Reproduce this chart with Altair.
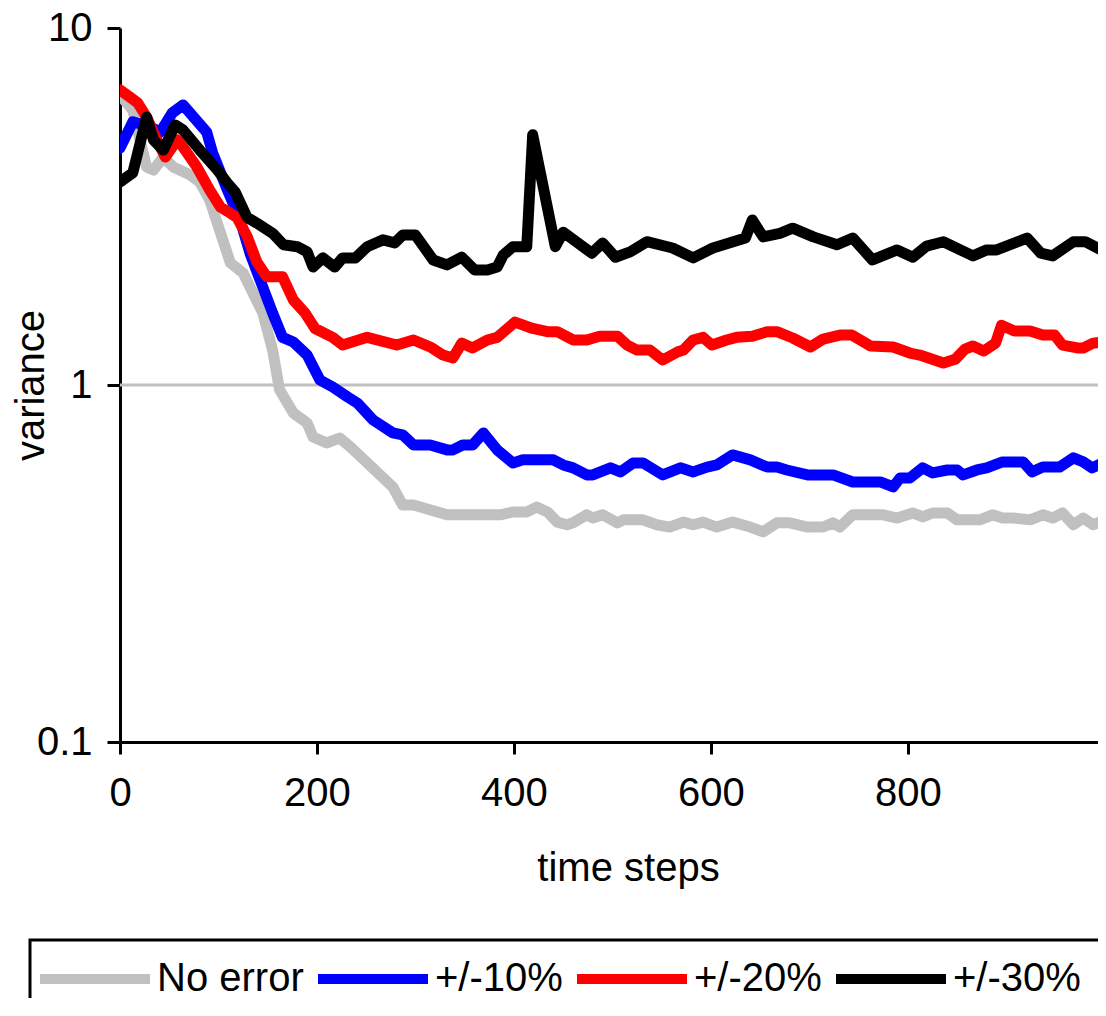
import altair as alt
import pandas as pd

# ---------------- data ----------------
series_names = ["No error", "+/-10%", "+/-20%", "+/-30%"]
series_colors = ["#c0c0c0", "#0000ff", "#ff0000", "#000000"]

t_none = [0, 13, 27, 34, 44, 54, 71, 81, 91, 102, 112, 125, 135, 145, 155, 162, 176, 190, 196, 210,
          223, 234, 277, 287, 298, 332, 386, 399, 413, 423, 434, 444, 454, 460, 474, 480, 490, 505, 511, 531,
          545, 558, 572, 582, 592, 606, 622, 640, 653, 667, 680, 698, 714, 724, 731, 744, 775, 789, 805, 815,
          825, 840, 850, 873, 886, 896, 907, 924, 937, 947, 957, 968, 978, 988, 1000]
v_none = [6.49, 5.89, 4.08, 4.00, 4.35, 4.08, 3.88, 3.70, 3.30, 2.67, 2.20, 2.06, 1.81, 1.59, 1.25, 0.97, 0.835, 0.783, 0.715, 0.688,
          0.71, 0.67, 0.518, 0.461, 0.461, 0.433, 0.433, 0.441, 0.441, 0.455, 0.441, 0.413, 0.406, 0.411, 0.433, 0.424, 0.433, 0.411, 0.419, 0.419,
          0.406, 0.40, 0.413, 0.406, 0.413, 0.40, 0.413, 0.40, 0.388, 0.411, 0.411, 0.40, 0.40, 0.411, 0.40, 0.433, 0.433, 0.424, 0.438, 0.427,
          0.438, 0.438, 0.419, 0.419, 0.433, 0.424, 0.424, 0.419, 0.433, 0.424, 0.438, 0.406, 0.424, 0.406, 0.419]

t_10 = [0, 13, 31, 41, 53, 64, 88, 94, 109, 122, 132, 145, 155, 165, 176, 190, 203, 216, 231, 241,
        257, 277, 287, 298, 315, 332, 338, 348, 358, 369, 383, 399, 409, 440, 450, 460, 474, 480, 498, 508,
        521, 531, 551, 569, 582, 596, 606, 622, 640, 657, 667, 677, 698, 724, 744, 772, 785, 792, 802, 815,
        825, 840, 850, 856, 870, 880, 896, 917, 926, 937, 954, 968, 978, 987, 1000]
v_10 = [4.61, 5.46, 5.28, 5.11, 5.78, 6.09, 5.11, 4.47, 3.52, 2.90, 2.34, 1.88, 1.59, 1.36, 1.32, 1.213, 1.033, 0.987, 0.926, 0.89,
        0.798, 0.734, 0.725, 0.679, 0.679, 0.658, 0.658, 0.679, 0.679, 0.734, 0.658, 0.605, 0.617, 0.617, 0.597, 0.586, 0.56, 0.56, 0.586, 0.571,
        0.605, 0.605, 0.56, 0.586, 0.571, 0.589, 0.597, 0.637, 0.617, 0.589, 0.589, 0.578, 0.56, 0.56, 0.535, 0.535, 0.518, 0.549, 0.549, 0.586,
        0.567, 0.578, 0.578, 0.56, 0.578, 0.586, 0.609, 0.609, 0.571, 0.589, 0.589, 0.625, 0.609, 0.586, 0.609]

t_20 = [0, 10, 18, 27, 36, 46, 58, 64, 78, 91, 102, 112, 119, 129, 139, 149, 165, 176, 188, 198,
        216, 226, 251, 281, 298, 315, 328, 338, 347, 358, 373, 383, 401, 419, 434, 444, 460, 474, 487, 505,
        515, 525, 538, 551, 566, 572, 582, 592, 601, 616, 626, 642, 657, 667, 683, 701, 714, 731, 743, 762,
        785, 802, 812, 836, 848, 858, 866, 877, 889, 895, 908, 924, 937, 949, 957, 972, 978, 988, 1000]
v_20 = [6.71, 6.41, 6.17, 5.63, 4.95, 4.35, 4.86, 4.64, 4.08, 3.52, 3.15, 3.03, 2.94, 2.61, 2.21, 2.01, 2.01, 1.73, 1.59, 1.44,
        1.36, 1.294, 1.36, 1.294, 1.337, 1.278, 1.213, 1.19, 1.31, 1.27, 1.337, 1.36, 1.50, 1.44, 1.41, 1.41, 1.337, 1.337, 1.37, 1.37,
        1.294, 1.253, 1.253, 1.175, 1.237, 1.253, 1.337, 1.36, 1.294, 1.337, 1.36, 1.37, 1.41, 1.41, 1.354, 1.278, 1.345, 1.38, 1.38, 1.286,
        1.278, 1.229, 1.213, 1.152, 1.18, 1.261, 1.286, 1.245, 1.31, 1.47, 1.417, 1.417, 1.38, 1.38, 1.294, 1.27, 1.27, 1.31, 1.32]

t_30 = [0, 13, 27, 34, 44, 56, 64, 81, 99, 109, 117, 129, 139, 155, 166, 180, 190, 196, 206, 218,
        226, 239, 251, 267, 279, 287, 300, 318, 332, 347, 360, 373, 383, 389, 399, 413, 419, 442, 450, 479,
        490, 503, 518, 535, 561, 582, 602, 635, 642, 653, 670, 683, 704, 728, 744, 764, 789, 805, 819, 836,
        866, 880, 890, 921, 935, 947, 968, 980, 1000]
v_30 = [3.70, 3.93, 5.63, 4.86, 4.55, 5.35, 5.18, 4.55, 4.00, 3.68, 3.47, 2.95, 2.84, 2.66, 2.47, 2.44, 2.36, 2.14, 2.27, 2.14,
        2.27, 2.27, 2.44, 2.55, 2.50, 2.63, 2.63, 2.24, 2.17, 2.28, 2.10, 2.10, 2.14, 2.31, 2.44, 2.44, 5.02, 2.44, 2.68, 2.34,
        2.50, 2.28, 2.36, 2.52, 2.42, 2.27, 2.42, 2.58, 2.90, 2.60, 2.66, 2.75, 2.60, 2.47, 2.58, 2.24, 2.39, 2.28, 2.45, 2.52,
        2.30, 2.39, 2.39, 2.58, 2.34, 2.30, 2.52, 2.52, 2.36]

x_ticks = [0, 200, 400, 600, 800]
y_ticks = [0.1, 1, 10]
grid_values = [1]

# ---------------- table ----------------
rows = []
for name, ts, vs in zip(series_names, [t_none, t_10, t_20, t_30], [v_none, v_10, v_20, v_30]):
    n = min(len(ts), len(vs))
    for t, v in zip(ts[:n], vs[:n]):
        rows.append({"series": name, "t": t, "v": v})
df = pd.DataFrame(rows)

FONT = "Liberation Sans"
FS = 40

xscale = alt.Scale(domain=[0, 993], nice=False, zero=False)
yscale = alt.Scale(type="log", domain=[0.1, 10], nice=False)

xaxis = alt.Axis(values=x_ticks, title="time steps", grid=False,
                 domainColor="black", domainWidth=3, tickColor="black", tickWidth=3, tickSize=12,
                 labelFont=FONT, labelFontSize=FS, labelColor="black", labelPadding=19, labelFlush=False,
                 titleFont=FONT, titleFontSize=FS, titleFontWeight="normal", titleColor="black",
                 titleX=508, titleY=138, titleBaseline="alphabetic", titleAlign="center")
yaxis = alt.Axis(values=y_ticks, format="~g", title="variance", grid=False,
                 domainColor="black", domainWidth=3, tickColor="black", tickWidth=3, tickSize=13,
                 labelFont=FONT, labelFontSize=FS, labelColor="black", labelPadding=15,
                 titleFont=FONT, titleFontSize=FS, titleFontWeight="normal", titleColor="black",
                 titleAngle=270, titleX=-77, titleY=357, titleBaseline="alphabetic", titleAlign="center")

# legend symbol: a long horizontal stroke drawn with a custom path
legend = alt.Legend(title=None, orient="none", direction="horizontal", legendX=-90, legendY=912,
                    symbolType="M-5.8,0H16.2", symbolSize=100, symbolStrokeWidth=10,
                    labelFont=FONT, labelFontSize=FS, labelColor="black", labelOffset=68, labelLimit=400,
                    columnPadding=-6, padding=19, strokeColor="black")

color = alt.Color("series:N", scale=alt.Scale(domain=series_names, range=series_colors), legend=legend)

grid = alt.Chart(pd.DataFrame({"v": grid_values})).mark_rule(color="#c0c0c0", strokeWidth=3).encode(
    y=alt.Y("v:Q", scale=yscale, axis=yaxis)
)

layers = [grid]
for name in series_names:
    layers.append(
        alt.Chart(df).transform_filter(alt.datum.series == name).mark_line(
            strokeWidth=11, strokeJoin="round", strokeCap="round", clip=True
        ).encode(
            x=alt.X("t:Q", scale=xscale, axis=xaxis),
            y=alt.Y("v:Q", scale=yscale, axis=yaxis),
            color=color,
            order="t:Q",
        )
    )

chart = alt.layer(*layers).properties(
    width=978, height=714,
    autosize=alt.AutoSizeParams(type="none"),
    padding={"left": 112, "top": 20, "right": 0, "bottom": 256},
    background="white",
).configure_view(stroke=None).configure_legend(strokeWidth=3)

chart.save("out.html", embed_options={"renderer": "svg", "actions": False})
